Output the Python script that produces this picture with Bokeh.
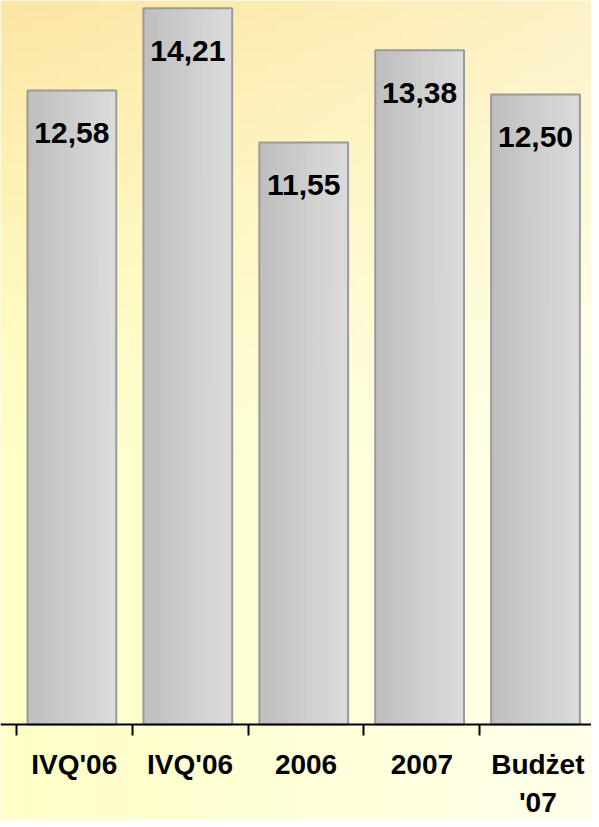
import numpy as np
from bokeh.plotting import figure
from bokeh.models import ColumnDataSource, LinearAxis, FixedTicker, Range1d
from bokeh.transform import dodge
from bokeh.core.properties import value
from bokeh.embed import file_html
from bokeh.resources import INLINE

# ---- data ----
categories = ["IVQ'06", "IVQ'06", "2006", "2007", "Budżet\n'07"]
values = [12.58, 14.21, 11.55, 13.38, 12.50]
value_labels = [f"{v:.2f}".replace(".", ",") for v in values]

idx = list(range(len(categories)))
boundaries = [i - 0.5 for i in range(len(categories) + 1)]

# ---- figure ----
x0, x1 = -0.636, 4.463
y0, y1 = -1.885, 14.365
p = figure(width=591, height=819, x_range=Range1d(x0, x1), y_range=Range1d(y0, y1),
           x_axis_type=None, y_axis_type=None, output_backend="svg",
           toolbar_location=None, min_border=0)
p.outline_line_color = None
p.border_fill_color = "#FFFFD4"
p.background_fill_color = "#FFFFD4"

# background gradient (style only)
H, W = 80, 60
img = np.zeros((H, W), dtype=np.uint32)
view = img.view(dtype=np.uint8).reshape((H, W, 4))
for r in range(H):
    t = 1 - r / (H - 1)  # 0 at top, 1 at bottom (image row 0 = bottom)
    for c in range(W):
        s = c / (W - 1)
        base = np.array([255, 255, 198]) * (1 - s) + np.array([255, 255, 234]) * s
        amt = max(0.0, 1 - t / 0.55) ** 1.3 * (1 - 0.5 * s)
        tint = np.array([252, 230, 166])
        col = base * (1 - amt) + tint * amt
        view[r, c, 0:3] = col.astype(np.uint8)
        view[r, c, 3] = 255
p.image_rgba(image=[img], x=x0, y=y0, dw=x1 - x0, dh=y1 - y0)

src = ColumnDataSource(dict(x=idx, top=values, label=value_labels))

bar_w = 0.766
shift = -0.02
N = 30
c_left = np.array([190, 190, 190])
c_right = np.array([220, 220, 220])
for k in range(N):
    f = (k + 0.5) / N
    col = c_left * (1 - f) + c_right * f
    hexcol = "#%02x%02x%02x" % tuple(int(v) for v in col)
    off = shift - bar_w / 2 + (k + 0.5) * bar_w / N
    p.vbar(x=dodge("x", off), top="top", bottom=0, width=bar_w / N * 1.15,
           source=src, fill_color=hexcol, line_color=None)
p.vbar(x=dodge("x", shift), top="top", bottom=0, width=bar_w, source=src,
       fill_alpha=0, line_color="#9a9a9a", line_width=2)

p.text(x=dodge("x", shift), y="top", text="label", source=src, text_align="center",
       text_baseline="alphabetic", y_offset=43, text_font=value("Liberation Sans"),
       text_font_style="bold", text_font_size="30px", text_color="black")

# x axis: labels at category centres, tick marks at category boundaries
ax = LinearAxis(ticker=FixedTicker(ticks=idx, minor_ticks=boundaries), fixed_location=0)
ax.major_label_overrides = {i: c for i, c in zip(idx, categories)}
ax.major_tick_line_color = None
ax.major_tick_out = 11
ax.major_tick_in = 0
ax.minor_tick_out = 11
ax.minor_tick_in = 0
ax.minor_tick_line_color = "black"
ax.minor_tick_line_width = 2
ax.axis_line_color = "black"
ax.axis_line_width = 2
ax.major_label_standoff = 14
ax.major_label_text_font = "Liberation Sans"
ax.major_label_text_font_style = "bold"
ax.major_label_text_font_size = "28px"
ax.major_label_text_color = "black"
p.add_layout(ax, "below")

open("out.html", "w").write(file_html(p, INLINE))
